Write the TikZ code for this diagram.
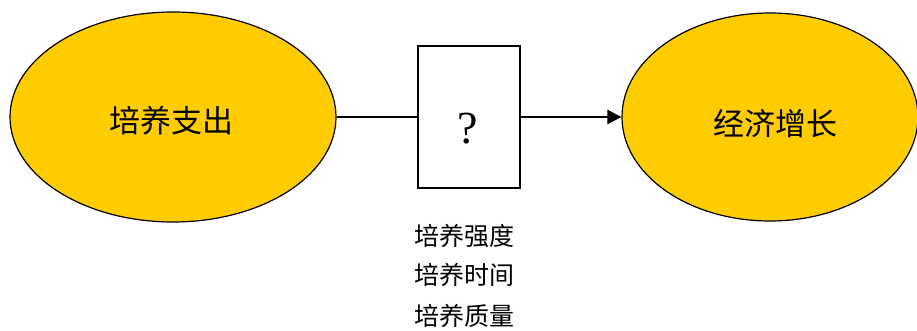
\documentclass[tikz,border=0pt]{standalone}
\usepackage{fontspec}
\setmainfont{Liberation Serif}
\newfontfamily\cjk{Noto Sans CJK SC}
\usetikzlibrary{shapes.geometric,arrows.meta}
\definecolor{gold}{HTML}{FFCC00}
\tikzset{
  blob/.style={ellipse,draw=black,line width=1.2pt,fill=gold,inner sep=0pt},
  qbox/.style={rectangle,draw=black,line width=1.8pt,fill=white,minimum width=102pt,minimum height=142pt,inner sep=0pt},
  lab/.style={font=\cjk\fontsize{25}{27}\selectfont,inner sep=0pt},
  big/.style={font=\cjk\fontsize{31}{33}\selectfont,inner sep=0pt}
}
\begin{document}
\begin{tikzpicture}[x=1pt,y=-1pt]
\useasboundingbox (0,0) rectangle (917,331);
\node[blob,minimum width=326pt,minimum height=210pt] (a) at (173,117) {};
\node[big] (at) at (171,121) {培养支出};
\node[blob,minimum width=296pt,minimum height=208pt] (b) at (770,117) {};
\node[big] (bt) at (775,124) {经济增长};
\node[qbox] (q) at (469,117) {};
\node[font=\fontsize{46}{48}\selectfont,inner sep=0pt] (qm) at (468,129) {?};
\draw[line width=1.4pt] (a.east) -- (q.west);
\draw[line width=2.4pt,-{Triangle[length=14pt,width=14pt]}] (q.east) -- (b.west);
\node[lab] (t1) at (464,236) {培养强度};
\node[lab] (t2) at (464,275) {培养时间};
\node[lab] (t3) at (464,316) {培养质量};
\end{tikzpicture}
\end{document}
